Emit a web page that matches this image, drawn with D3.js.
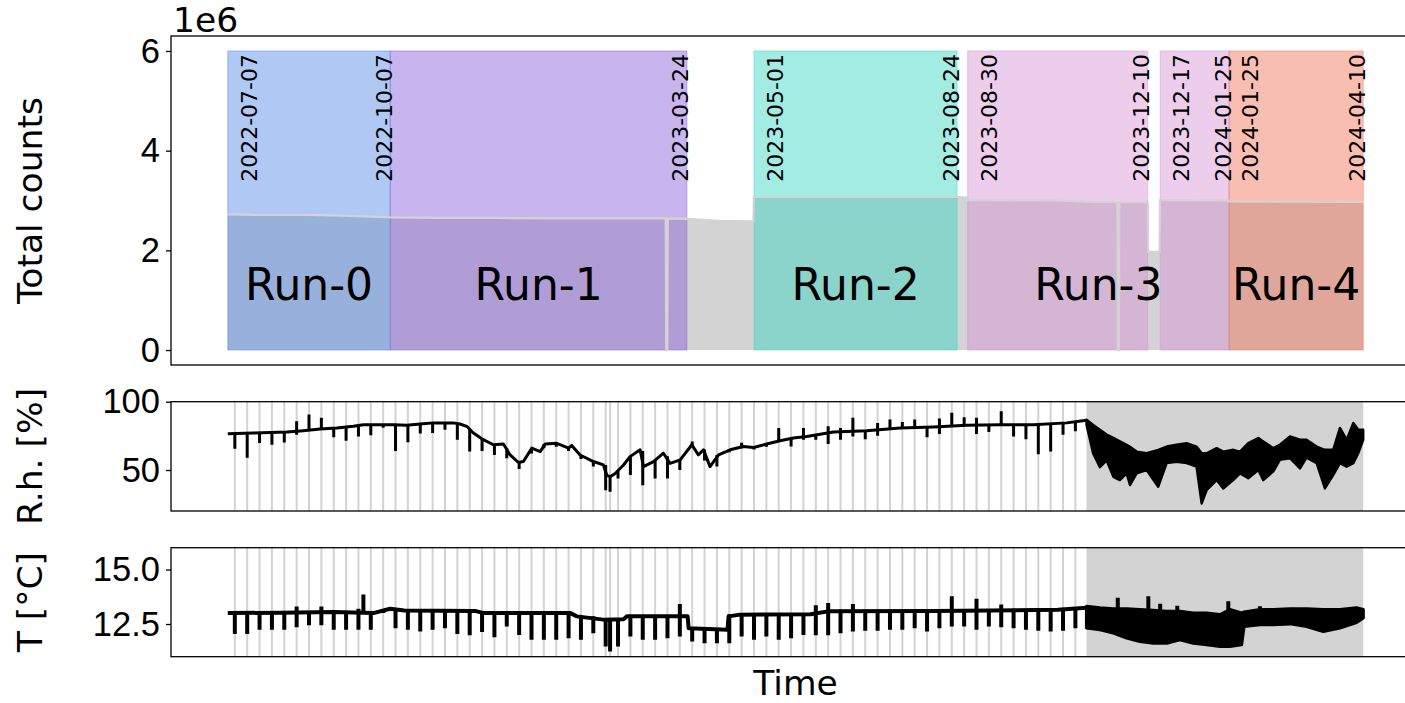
<!DOCTYPE html>
<html lang="en">
<head>
<meta charset="utf-8">
<title>Total counts, R.h. and T per run</title>
<script src="https://cdn.jsdelivr.net/npm/d3@7"></script>
<style>
  body { margin: 0; background: #fff; }
  svg { font-family: "DejaVu Sans", sans-serif; }
  .tick text { font-size: 34.5px; fill: #000; }
  .axis-label { font-size: 34.5px; fill: #000; }
  .date-label { font-size: 22px; fill: #000; }
  .run-label { font-size: 44px; fill: #000; text-anchor: middle; }
</style>
</head>
<body>
<script>

// ---- data ----
// all series times are days since this date
var startDay = "2022-07-07";

// run spans drawn on the top panel
var spanStart = ["2022-07-07", "2022-10-07", "2023-05-01", "2023-08-30", "2023-12-17", "2024-01-25"];
var spanEnd   = ["2022-10-07", "2023-03-24", "2023-08-24", "2023-12-10", "2024-01-25", "2024-04-10"];
var spanRun   = [0, 1, 2, 3, 3, 4];
var showStartLabel = [true, false, true, true, true, true];
var runNames  = ["Run-0", "Run-1", "Run-2", "Run-3", "Run-4"];
var runColors = ["#4f84e6", "#855cd9", "#30d5c3", "#d590d5", "#ef6e54"];

// total counts
var cntDay = [0, 20, 45, 70, 92, 120, 150, 180, 220, 248.0, 248.3, 248.9, 249.2, 260, 278, 296, 297.7,
              297.9, 360, 413, 418.8, 419.1, 470, 490, 503.8, 504.1, 504.6, 504.9, 521.0, 521.2, 527.7,
              527.9, 566.8, 567.1, 643];
var cntVal = [2.72e6, 2.71e6, 2.71e6, 2.69e6, 2.66e6, 2.65e6, 2.65e6, 2.64e6, 2.64e6, 2.64e6, 0, 0, 2.64e6,
              2.63e6, 2.59e6, 2.58e6, 2.58e6, 3.07e6, 3.07e6, 3.07e6, 3.06e6, 3.01e6, 3.00e6, 2.97e6,
              2.97e6, 0, 0, 2.97e6, 2.96e6, 1.97e6, 1.97e6, 3.01e6, 3.00e6, 2.98e6, 2.97e6];

// weekly checks (grey lines in the lower panels)
var weekFirst = "2022-07-11";
var weekLast  = "2023-10-30";
var extraCheckDay = 216.5;
// period with unstable climate (grey band in the lower panels)
var unstableStart = 486.3;
var unstableEnd   = 643;

// relative humidity
var rhDay = [0, 14.5, 33.4, 42.8, 52.3, 61.7, 71.1, 76.8, 93.8, 101.4, 108.9, 116.4, 127.7, 131.5, 135.3,
             139.1, 144.7, 150.4, 156.1, 159.9, 164.6, 167.4, 172.2, 176.9, 179.7, 186.3, 193, 194.8,
             199.5, 207.1, 212.7, 214.6, 216.5, 219.4, 224.1, 227.8, 233.5, 235.4, 241.1, 246.7, 250.5,
             256.2, 262.8, 266.5, 269.4, 273.1, 277.9, 284.5, 292, 297.7, 305.2, 312.8, 320.3, 327.9,
             343, 361.9, 380.7, 399.6, 418.5, 437.3, 456.2, 475.1, 486.3];
var rhVal = [76.5, 77.1, 77.8, 78.8, 80, 80.8, 82, 83.2, 83.2, 82.7, 83.7, 84.5, 84.5, 83.7, 82,
             77.1, 72.2, 68.5, 69, 61, 55.5, 56.2, 66, 63.5, 69, 69.5, 66, 68,
             61, 56.2, 53.7, 46.3, 45.1, 47.5, 53.7, 59.8, 64.8, 52.5, 56.2, 62.3, 54.9,
             57.4, 68.5, 61.1, 64.8, 52.5, 61.1, 64.8, 67.2, 66.5, 69, 71.4, 73.4, 74.6,
             77.8, 78.8, 80.8, 81.5, 82.7, 83.2, 83.2, 84.5, 86.5];
var rhWeekTop = [76.5, 77, 77, 77.5, 78, 85.7, 90.6, 88.2, 81, 81.5, 82.5, 83.2, 83.5, 83.2, 82.7, 83.7,
                 84.5, 84.5, 84.3, 80, 73, 69, 66, 55, 66, 69, 70, 67, 61, 56, 53.7, 50, 60, 64, 57,
                 60, 58, 70.9, 65, 61, 65, 70, 67, 69, 80.8, 73.4, 80.8, 76, 82, 80.8, 88.2, 78.8,
                 84.5, 86.9, 85.2, 86.9, 81.3, 87.7, 91.9, 88.7, 88.2, 83, 93.1, 83.2, 83.2, 83.5,
                 84, 84.3, 84.5];
var rhWeekBot = [65.5, 59, 69.7, 68.5, 70.2, 75.8, 79, 80, 73.9, 71.4, 74.6, 75.4, 81, 64, 70.4, 76.8,
                 77.1, 79.5, 72.2, 63.5, 64, 61, 58.6, 50.7, 62, 66, 67, 64, 58, 52.5, 35.2, 43.8,
                 46.3, 38.9, 43.8, 43.8, 50, 67, 57, 52.5, 63, 66, 65, 67, 71, 67.2, 72.2, 72.2, 69,
                 72.2, 74.6, 72.6, 75.1, 79.5, 80.5, 80.8, 73.9, 76.3, 82, 82.5, 76.3, 77.8, 83, 74.6,
                 72.6, 61.6, 63.5, 75.8, 78.3];
var rhExtraTop = 46, rhExtraBot = 34;
var rhBandDay = [486.3, 490.1, 493.9, 497.7, 501.5, 505.2, 509, 510.9, 514.7, 520.3, 526.9, 531.7, 537.3,
                 543, 548.6, 551.5, 554.3, 560, 563.7, 569.4, 573.2, 577.9, 583.6, 586.4, 592.1, 595.8,
                 601.5, 607.2, 610.9, 616.6, 621.3, 626, 629.8, 633.6, 637.4, 640.2, 643];
var rhBandHi  = [86.9, 83, 79.5, 76, 73.5, 71, 68.5, 67, 63.5, 62.3, 64.8, 67.2, 68.5, 69.7, 67.2, 62.3,
                 62.3, 66, 63.5, 64.8, 63.5, 69.7, 73.4, 70.9, 66, 68.5, 74.6, 72.2, 72.2, 67.2, 64.8,
                 64.8, 80.8, 72.2, 84.5, 79.5, 79.5];
var rhBandLo  = [83, 62, 52, 57, 45, 42.6, 47.5, 39, 47.5, 50, 37.7, 55, 56, 55, 52.4, 25.4, 35.2, 42.6,
                 36.5, 42.6, 47.5, 44, 50, 42.6, 49, 57.4, 58.6, 51.2, 59, 55, 36.5, 46.3, 55, 52.4,
                 55, 62.3, 72];

// temperature
var tDay = [0, 30, 60, 82.5, 91.9, 100, 140, 145, 194, 197.7, 212.7, 224.1, 226, 260.4, 261, 283,
            283.6, 290, 330, 340, 400, 470, 486.3];
var tVal = [13.0, 13.02, 13.05, 13.0, 13.2, 13.12, 13.1, 13.0, 13.0, 12.85, 12.7, 12.72, 12.85, 12.85,
            12.3, 12.24, 12.85, 12.93, 12.95, 13.08, 13.1, 13.15, 13.25];
var tWeekTop = [13.05, 13.05, 13.05, 13.05, 13.05, 13.3, 13.1, 13.3, 13.1, 13.1, 13.2, 13.05, 13.1,
                13.15, 13.15, 13.15, 13.15, 13.15, 13.15, 13.15, 13.05, 13.05, 13.05, 13.05, 13.05,
                13.05, 13.05, 13.05, 12.9, 12.85, 12.75, 12.75, 12.9, 12.9, 12.9, 12.9, 13.42, 12.3,
                12.3, 12.3, 12.95, 13.0, 13.0, 13.0, 13.0, 13.0, 13.0, 13.36, 13.46, 13.15, 13.42,
                13.15, 13.15, 13.15, 13.15, 13.15, 13.15, 13.15, 13.77, 13.15, 13.66, 13.15, 13.4,
                13.2, 13.2, 13.2, 13.2, 13.2, 13.2];
var tWeekBot = [12.04, 12.04, 12.24, 12.24, 12.24, 12.35, 12.44, 12.44, 12.24, 12.24, 12.24, 12.24,
                13.0, 12.31, 12.24, 12.16, 12.24, 12.31, 12.04, 11.98, 12.13, 11.89, 12.39, 12.0,
                11.78, 11.78, 11.78, 11.85, 11.78, 12.08, 11.47, 11.47, 11.93, 11.78, 11.78, 11.85,
                11.93, 11.7, 11.62, 11.62, 11.62, 11.93, 11.78, 11.93, 11.78, 11.85, 12.0, 11.98,
                11.98, 12.08, 12.16, 12.19, 12.19, 12.24, 12.24, 12.31, 12.16, 12.31, 12.39, 12.39,
                12.24, 12.39, 12.35, 12.31, 12.24, 12.19, 12.16, 12.19, 12.31];
var tExtraTop = 12.72, tExtraBot = 11.24;
var tBandDay = [486.3, 493.9, 501.5, 509, 516.5, 524.1, 531.7, 539.2, 546.8, 554.3, 561.9, 567.5,
                574.1, 575.5, 584.5, 592.1, 601.5, 610.9, 620.4, 629.8, 639.2, 643];
var tBandHi  = [13.31, 13.24, 13.19, 13.19, 13.16, 13.13, 13.08, 13.08, 13.0, 13.0, 12.93, 13.16,
                13.0, 13.05, 13.16, 13.16, 13.19, 13.19, 13.16, 13.16, 13.24, 13.16];
var tBandLo  = [12.32, 12.24, 12.09, 11.86, 11.7, 11.62, 11.62, 11.78, 11.62, 11.55, 11.47, 11.47,
                11.55, 12.39, 12.47, 12.47, 12.51, 12.39, 12.16, 12.32, 12.57, 12.78];
// isolated upward temperature spikes
var tSpikeDay = [76.8, 504, 521.3, 528, 537.7, 566.6, 584.5];
var tSpikeTop = [13.85, 13.7, 13.77, 13.43, 13.34, 13.54, 13.31];
var tSpikeBot = [13.0, 13.1, 13.1, 13.05, 13.05, 13.0, 13.1];

// ---- layout ----
var width = 1405, height = 703;
var left = 171, right = 1420;   // axes run past the right edge of the picture
var parseDate = d3.utcParse("%Y-%m-%d");
var t0 = parseDate(startDay);
function dayToDate(d) { return new Date(t0.getTime() + d * 864e5); }

var first = parseDate(spanStart[0]);
var last = parseDate(spanEnd[spanEnd.length - 1]);
var pad = 0.05 * (last - first);
var x = d3.scaleUtc()
  .domain([new Date(+first - pad), new Date(+last + pad)])
  .range([left, right]);
function xd(d) { return x(dayToDate(d)); }

var svg = d3.select("body").append("svg")
  .attr("width", width)
  .attr("height", height);

function makePanel(name, top, bottom, domain, ticks, fmt) {
  var y = d3.scaleLinear().domain(domain).range([bottom, top]);
  svg.append("clipPath").attr("id", "clip-" + name)
    .append("rect").attr("x", left).attr("y", top).attr("width", right - left).attr("height", bottom - top);
  var g = svg.append("g").attr("clip-path", "url(#clip-" + name + ")");
  return { y: y, g: g, top: top, bottom: bottom, ticks: ticks, fmt: fmt };
}

function finishPanel(p) {
  svg.append("rect")
    .attr("x", left).attr("y", p.top)
    .attr("width", right - left).attr("height", p.bottom - p.top)
    .attr("fill", "none").attr("stroke", "#000").attr("stroke-width", 1.3);
  var ax = svg.append("g")
    .attr("transform", "translate(" + left + ",0)")
    .call(d3.axisLeft(p.y).tickValues(p.ticks).tickSize(5).tickPadding(6).tickFormat(p.fmt));
  ax.select(".domain").remove();
  ax.selectAll(".tick line").attr("stroke", "#000").attr("stroke-width", 1.3);
  ax.selectAll(".tick text").attr("font-family", null).attr("font-size", null);
}

// ---- top panel: total counts ----
var pTop = makePanel("top", 36, 365, [-0.3e6, 6.3e6], [0, 2e6, 4e6, 6e6], function(v) { return v / 1e6; });
var cnt = cntDay.map(function(d, i) { return { day: d, v: cntVal[i] }; });

pTop.g.append("path")
  .datum(cnt)
  .attr("fill", "#d3d3d3")
  .attr("d", d3.area().x(function(d) { return xd(d.day); }).y0(pTop.y(0)).y1(function(d) { return pTop.y(d.v); }));

var spans = spanStart.map(function(s, i) {
  return { start: parseDate(s), end: parseDate(spanEnd[i]), s: s, e: spanEnd[i], run: spanRun[i], showStart: showStartLabel[i] };
});

pTop.g.selectAll(".span")
  .data(spans)
  .enter().append("rect")
  .attr("class", "span")
  .attr("x", function(d) { return x(d.start); })
  .attr("width", function(d) { return x(d.end) - x(d.start); })
  .attr("y", pTop.y(6e6))
  .attr("height", pTop.y(0) - pTop.y(6e6))
  .attr("fill", function(d) { return runColors[d.run]; })
  .attr("fill-opacity", 0.45)
  .attr("stroke", function(d) { return runColors[d.run]; })
  .attr("stroke-opacity", 0.45)
  .attr("stroke-width", 1);

pTop.g.append("path")
  .datum(cnt)
  .attr("fill", "none")
  .attr("stroke", "#d3d3d3")
  .attr("stroke-width", 2.2)
  .attr("d", d3.line().x(function(d) { return xd(d.day); }).y(function(d) { return pTop.y(d.v); }));

// date labels: start dates right of the span edge, end dates left of it
spans.forEach(function(d) {
  var labels = [[d.end, d.e, 1.5]];
  if (d.showStart) labels.push([d.start, d.s, 29]);
  labels.forEach(function(l) {
    svg.append("text")
      .attr("class", "date-label")
      .attr("text-anchor", "end")
      .attr("transform", "translate(" + (x(l[0]) + l[2]) + "," + 54 + ") rotate(-90)")
      .text(l[1]);
  });
});

runNames.forEach(function(name, r) {
  var mine = spans.filter(function(d) { return d.run === r; });
  var a = d3.min(mine, function(d) { return d.start; });
  var b = d3.max(mine, function(d) { return d.end; });
  svg.append("text")
    .attr("class", "run-label")
    .attr("x", (x(a) + x(b)) / 2)
    .attr("y", pTop.y(1e6))
    .text(name);
});
finishPanel(pTop);

svg.append("text").attr("class", "axis-label")
  .attr("x", 173).attr("y", 32).text("1e6");

// ---- lower panels ----
var weekDates = d3.utcMonday.range(parseDate(weekFirst), d3.utcDay.offset(parseDate(weekLast), 1));

function lowerPanel(p, base, baseDay, weekTop, weekBot, extraTop, extraBot, bandDay, bandHi, bandLo, lw) {
  var g = p.g, y = p.y;
  g.selectAll(".week")
    .data(weekDates.concat([dayToDate(extraCheckDay)]))
    .enter().append("line")
    .attr("x1", function(d) { return x(d); }).attr("x2", function(d) { return x(d); })
    .attr("y1", p.top).attr("y2", p.bottom)
    .attr("stroke", "#d3d3d3").attr("stroke-width", 2);

  g.append("rect")
    .attr("x", xd(unstableStart)).attr("width", xd(unstableEnd) - xd(unstableStart))
    .attr("y", p.top).attr("height", p.bottom - p.top)
    .attr("fill", "#d3d3d3");

  g.append("path")
    .datum(baseDay.map(function(d, i) { return [d, base[i]]; }))
    .attr("fill", "none").attr("stroke", "#000").attr("stroke-width", lw)
    .attr("stroke-linejoin", "round")
    .attr("d", d3.line().x(function(d) { return xd(d[0]); }).y(function(d) { return y(d[1]); }));

  var spikes = weekDates.map(function(d, i) { return { t: d, hi: weekTop[i], lo: weekBot[i] }; });
  spikes.push({ t: dayToDate(extraCheckDay), hi: extraTop, lo: extraBot });
  g.selectAll(".spike")
    .data(spikes)
    .enter().append("line")
    .attr("x1", function(d) { return x(d.t); }).attr("x2", function(d) { return x(d.t); })
    .attr("y1", function(d) { return y(d.hi); }).attr("y2", function(d) { return y(d.lo); })
    .attr("stroke", "#000").attr("stroke-width", lw);

  var band = bandDay.map(function(d, i) { return { day: d, hi: bandHi[i], lo: bandLo[i] }; });
  g.append("path")
    .datum(band)
    .attr("fill", "#000").attr("stroke", "#000").attr("stroke-width", lw * 0.8)
    .attr("stroke-linejoin", "round")
    .attr("d", d3.area()
      .x(function(d) { return xd(d.day); })
      .y0(function(d) { return y(d.lo); })
      .y1(function(d) { return y(d.hi); }));
}

var pRh = makePanel("rh", 401.7, 511, [20, 100], [50, 100], d3.format("d"));
lowerPanel(pRh, rhVal, rhDay, rhWeekTop, rhWeekBot, rhExtraTop, rhExtraBot, rhBandDay, rhBandHi, rhBandLo, 3);
finishPanel(pRh);

var pT = makePanel("t", 547.7, 656.7, [11, 16], [12.5, 15], d3.format(".1f"));
lowerPanel(pT, tVal, tDay, tWeekTop, tWeekBot, tExtraTop, tExtraBot, tBandDay, tBandHi, tBandLo, 4);
pT.g.selectAll(".tspike")
  .data(tSpikeDay)
  .enter().append("line")
  .attr("x1", function(d) { return xd(d); }).attr("x2", function(d) { return xd(d); })
  .attr("y1", function(d, i) { return pT.y(tSpikeTop[i]); })
  .attr("y2", function(d, i) { return pT.y(tSpikeBot[i]); })
  .attr("stroke", "#000").attr("stroke-width", 4);
finishPanel(pT);

// ---- axis labels ----
svg.append("text").attr("class", "axis-label")
  .attr("text-anchor", "middle")
  .attr("transform", "translate(42," + (36 + 365) / 2 + ") rotate(-90)")
  .text("Total counts");
svg.append("text").attr("class", "axis-label")
  .attr("text-anchor", "middle")
  .attr("transform", "translate(42," + (401.7 + 511) / 2 + ") rotate(-90)")
  .text("R.h. [%]");
svg.append("text").attr("class", "axis-label")
  .attr("text-anchor", "middle")
  .attr("transform", "translate(42," + (547.7 + 656.7) / 2 + ") rotate(-90)")
  .text("T [°C]");
svg.append("text").attr("class", "axis-label")
  .attr("text-anchor", "middle")
  .attr("x", (left + right) / 2).attr("y", 695)
  .text("Time");

</script>
</body>
</html>
